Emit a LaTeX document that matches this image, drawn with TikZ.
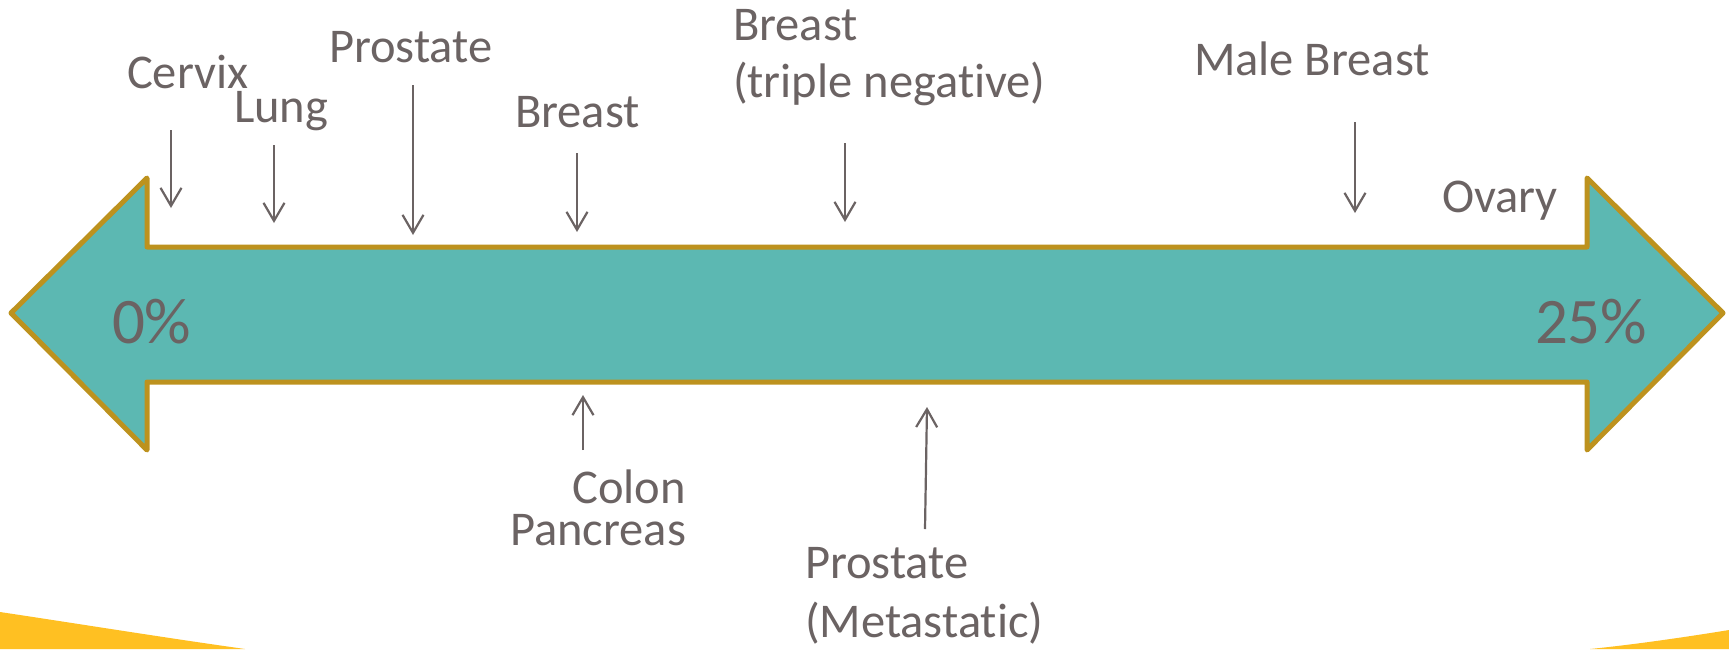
\documentclass[tikz,border=0pt]{standalone}
\usepackage{fontspec}
\setmainfont{Carlito}[Ligatures=NoCommon]
\usetikzlibrary{arrows.meta}
\definecolor{txtgray}{RGB}{107,99,99}
\definecolor{tealfill}{RGB}{92,184,178}
\definecolor{goldline}{RGB}{189,146,30}
\definecolor{swoosh}{RGB}{255,192,34}
\tikzset{
  lbl/.style={anchor=base west, inner sep=0pt, outer sep=0pt, text=txtgray, font=\fontsize{48.5}{58}\selectfont},
  lblr/.style={lbl, anchor=base east},
  pct/.style={anchor=base west, inner sep=0pt, outer sep=0pt, text=txtgray, font=\fontsize{65}{74}\selectfont},
  pointer/.style={draw=txtgray, line width=2.2pt, -{Straight Barb[length=18pt,width=21pt,line width=2.2pt]}},
  bigarrow/.style={fill=tealfill, draw=goldline, line width=5pt, line join=round}
}
\begin{document}
\begin{tikzpicture}[x=1pt,y=-1pt]
\useasboundingbox (0,0) rectangle (1729,649);
\fill[white] (0,0) rectangle (1729,649);
% yellow swooshes
\fill[swoosh] (0,612) .. controls (80,624) and (160,637) .. (245,649) -- (0,649) -- cycle;
\fill[swoosh] (1729,630) .. controls (1680,638) and (1630,645) .. (1590,649) -- (1729,649) -- cycle;
% big double arrow
\draw[bigarrow] (11,313) -- (147,178) -- (147,247) -- (1587,247) -- (1587,178) -- (1723,313)
  -- (1587,450) -- (1587,382) -- (147,382) -- (147,450) -- cycle;
\node[pct] (p0) at (112,343) {0\%};
\node[pct] (p25) at (1535,343) {25\%};
% labels above
\node[lbl] (cervix) at (127,88) {Cervix};
\node[lbl] (lung) at (234,122) {Lung};
\node[lbl] (prost) at (329,62) {Prostate};
\node[lbl] (breast) at (515,127) {Breast};
\node[lbl] (tnA) at (733,40) {Breast};
\node[lbl] (tnB) at (733,97) {(triple negative)};
\node[lbl] (male) at (1194,75) {Male Breast};
\node[lbl] (ovary) at (1442,212) {Ovary};
% labels below
\node[lblr, text depth=0pt] (colon) at (686,503) {Colon};
\node[lblr, text height=30pt] (panc) at (686,545) {Pancreas};
\node[lbl] (pmA) at (805,578) {Prostate};
\node[lbl] (pmB) at (805,637) {(Metastatic)};
% pointer coordinates
\coordinate (c1) at (171,130); \coordinate (c2) at (171,208);
\coordinate (l1) at (274,145); \coordinate (l2) at (274,223);
\coordinate (pr1) at (413,85); \coordinate (pr2) at (413,235);
\coordinate (b1) at (577,153); \coordinate (b2) at (577,232);
\coordinate (t1) at (845,143); \coordinate (t2) at (845,222);
\coordinate (m1) at (1355,122); \coordinate (m2) at (1355,213);
\coordinate (co1) at (583,450); \coordinate (co2) at (583,395);
\coordinate (pm1) at (925,529); \coordinate (pm2) at (927,407);
\draw[pointer] (c1) -- (c2);
\draw[pointer] (l1) -- (l2);
\draw[pointer] (pr1) -- (pr2);
\draw[pointer] (b1) -- (b2);
\draw[pointer] (t1) -- (t2);
\draw[pointer] (m1) -- (m2);
\draw[pointer] (co1) -- (co2);
\draw[pointer] (pm1) -- (pm2);
\end{tikzpicture}
\end{document}
